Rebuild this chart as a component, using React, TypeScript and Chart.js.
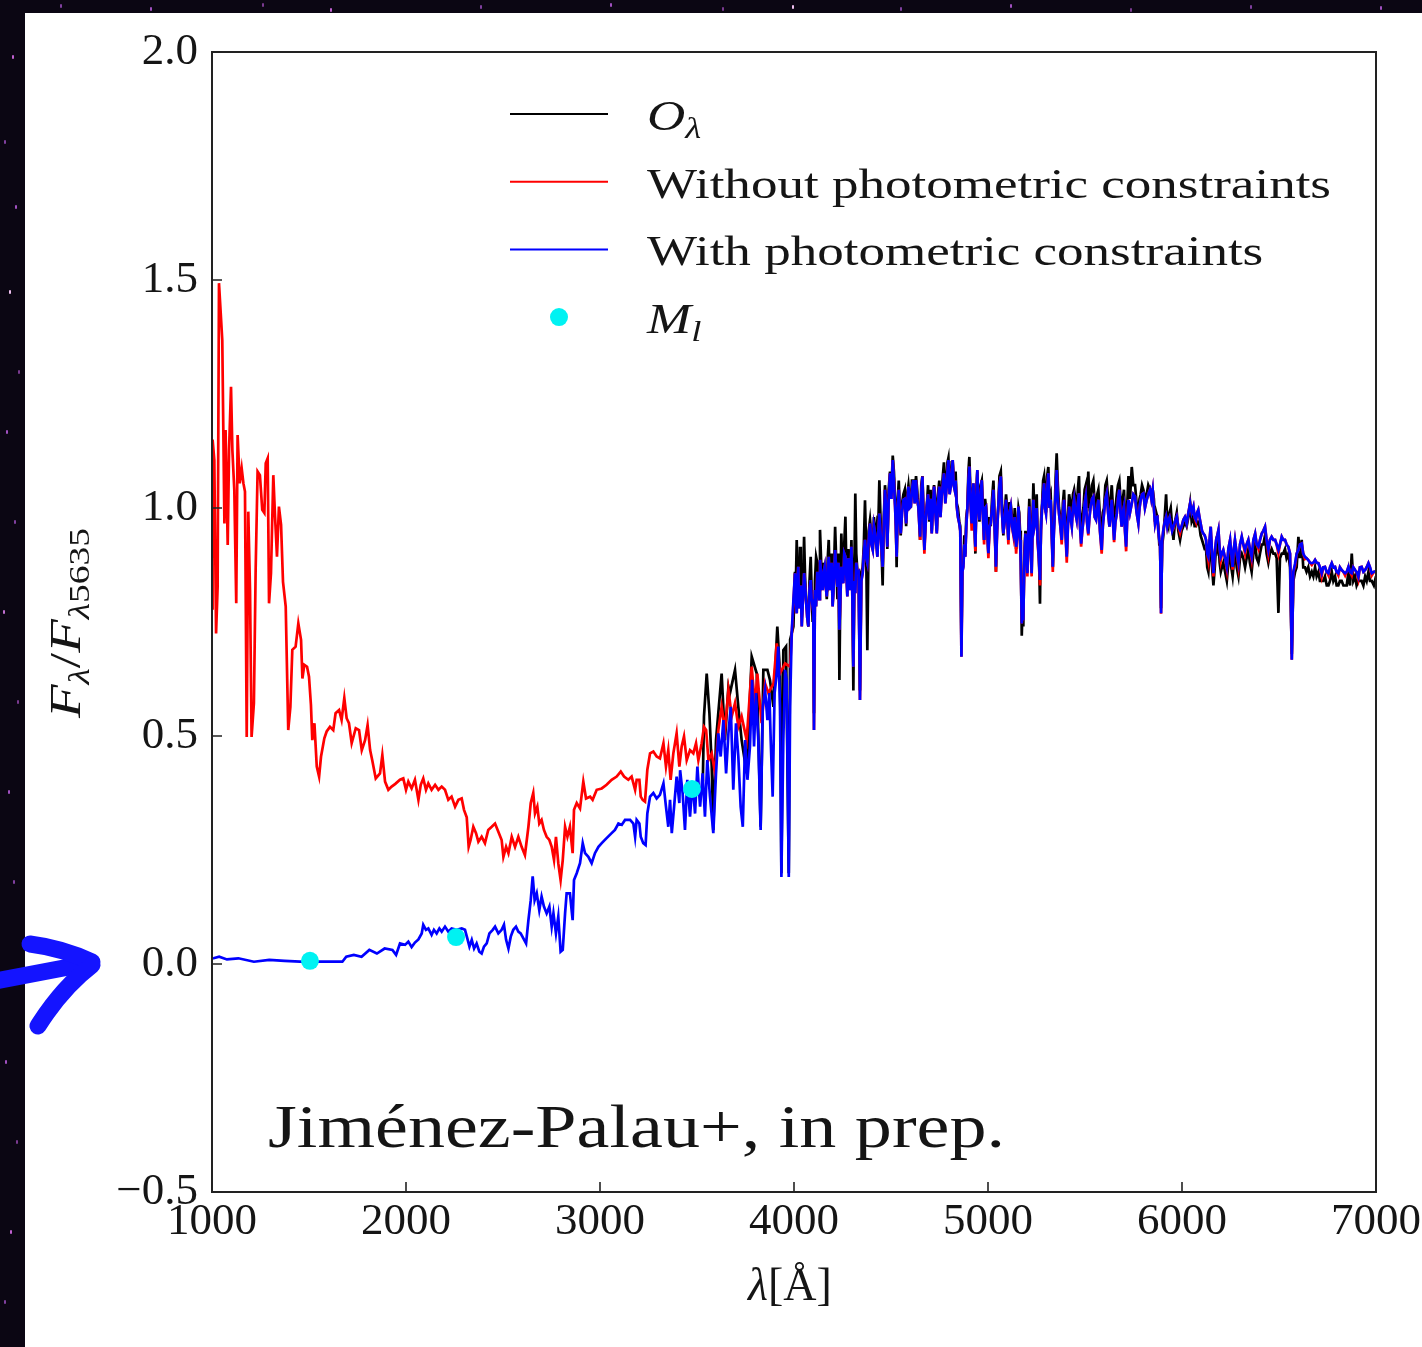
import React, { useEffect, useRef } from 'react';
import { Chart, registerables } from 'chart.js';

Chart.register(...registerables);

// ---------------- DATA ----------------
// Axis ticks
const xTickValues = [1000, 2000, 3000, 4000, 5000, 6000, 7000];
const yTickValues = [-0.5, 0, 0.5, 1.0, 1.5, 2.0];

// Legend / series labels
const labelObs = 'O_λ';
const labelWithout = 'Without photometric constraints';
const labelWith = 'With photometric constraints';
const labelPhot = 'M_l';
const noteText = 'Jiménez-Palau+, in prep.';

// "Without photometric constraints" (red), UV/blue part
const uvRedWave = [
  1001, 1003, 1012, 1021, 1029, 1036, 1053, 1064, 1070, 1081, 1088, 1098, 1105, 1115, 1125, 1132, 1143, 1153, 1162, 1170,
  1179, 1187, 1196, 1204, 1216, 1225, 1235, 1247, 1259, 1270, 1277, 1287, 1294, 1304, 1316, 1325, 1335, 1345, 1356, 1366,
  1380, 1393, 1404, 1414, 1431, 1445, 1459, 1466, 1476, 1490, 1500, 1510, 1517, 1528, 1540, 1552, 1562, 1579, 1591, 1608,
  1625, 1637, 1655, 1668, 1682, 1694, 1706, 1720, 1741, 1758, 1772, 1789, 1802, 1815, 1826, 1844, 1866, 1878, 1892, 1909,
  1926, 1945,
  1969, 1986, 2000, 2012, 2029, 2046, 2064, 2076, 2089, 2103, 2115, 2132, 2150, 2167, 2184, 2201, 2218, 2235, 2253, 2270,
  2287, 2299, 2313, 2323, 2333, 2347, 2361, 2373, 2390, 2407, 2424, 2442, 2459, 2476, 2493, 2502, 2516, 2528, 2545, 2562,
  2579, 2596, 2613, 2631, 2643, 2656, 2665, 2677, 2687, 2699, 2711, 2725, 2739, 2751, 2763, 2773, 2785, 2797, 2808, 2820,
  2832, 2845, 2859, 2866, 2880, 2897, 2914, 2928, 2949, 2962, 2983, 3009, 3034, 3060, 3086, 3107, 3124, 3146, 3163, 3181,
  3189, 3203, 3210, 3220, 3232, 3244, 3258, 3275, 3292, 3309, 3327, 3340, 3352, 3364, 3378, 3395, 3409, 3421, 3433, 3447,
  3464, 3481, 3495, 3507, 3524, 3536,
  3547, 3559, 3576, 3593, 3610, 3627, 3644, 3662, 3679, 3696, 3713, 3730, 3756, 3782, 3799, 3811, 3833, 3851, 3868, 3894,
  3911, 3928, 3954, 3980,
];
const uvRedFlux = [
  0.78, 1.15, 1.105, 0.725, 0.827, 1.493, 1.368, 0.966, 1.171, 0.919, 1.127, 1.266, 1.127, 1.039, 0.791, 1.16, 1.054, 1.087, 1.054, 1.036,
  0.498, 0.992, 0.82, 0.498, 0.572, 0.864, 1.08, 1.072, 0.996, 0.989, 1.098, 1.109, 0.791, 0.857, 1.072, 0.981, 0.893, 1.003, 0.963, 0.838,
  0.784, 0.513, 0.564, 0.689, 0.696, 0.747, 0.711, 0.626, 0.656, 0.652, 0.63, 0.568, 0.491, 0.528, 0.433, 0.411, 0.455, 0.495, 0.51, 0.52,
  0.513, 0.55, 0.557, 0.535, 0.583, 0.539, 0.528, 0.484, 0.517, 0.513, 0.469, 0.491, 0.524, 0.469, 0.447, 0.407, 0.418, 0.458, 0.4, 0.382,
  0.389, 0.395,
  0.404, 0.407, 0.382, 0.4, 0.385, 0.404, 0.36, 0.393, 0.407, 0.382, 0.396, 0.382, 0.393, 0.382, 0.389, 0.382, 0.36, 0.367, 0.345, 0.36,
  0.363, 0.338, 0.322, 0.257, 0.272, 0.301, 0.287, 0.268, 0.279, 0.265, 0.294, 0.301, 0.308, 0.29, 0.272, 0.235, 0.257, 0.243, 0.279, 0.257,
  0.279, 0.257, 0.239, 0.301, 0.353, 0.375, 0.33, 0.345, 0.308, 0.316, 0.294, 0.279, 0.272, 0.257, 0.228, 0.279, 0.221, 0.184, 0.228, 0.301,
  0.279, 0.301, 0.243, 0.338, 0.353, 0.341, 0.4, 0.363, 0.367, 0.36, 0.382, 0.385, 0.393, 0.404, 0.411, 0.422, 0.411, 0.404, 0.411, 0.382,
  0.404, 0.404, 0.367, 0.36, 0.356, 0.426, 0.462, 0.466, 0.455, 0.451, 0.484, 0.433, 0.469, 0.404, 0.462, 0.506, 0.433, 0.477, 0.499, 0.447,
  0.469, 0.462, 0.484, 0.447, 0.484, 0.52,
  0.513, 0.447, 0.462, 0.418, 0.513, 0.564, 0.513, 0.601, 0.543, 0.572, 0.52, 0.543, 0.491, 0.652, 0.564, 0.637, 0.528, 0.615, 0.594, 0.615,
  0.703, 0.637, 0.659, 0.652,
];

// "With photometric constraints" (blue), UV/blue part
const uvBlueWave = [
  1000, 1008, 1037, 1077, 1136, 1216, 1295, 1374, 1454, 1573, 1672, 1692, 1731, 1771, 1811, 1850, 1890, 1930, 1949,
  1969, 1995, 2012, 2029, 2046, 2064, 2081, 2089, 2103, 2115, 2132, 2144, 2158, 2172, 2184, 2201, 2218, 2235, 2261, 2287,
  2304, 2316, 2327, 2339, 2351, 2364, 2378, 2390, 2402, 2416, 2430, 2447, 2459, 2476, 2493, 2505, 2516, 2528, 2540, 2553,
  2567, 2579, 2591, 2605, 2619, 2631, 2643, 2653, 2663, 2674, 2687, 2699, 2711, 2725, 2739, 2751, 2760, 2773, 2785, 2797,
  2808, 2820, 2828, 2845, 2859, 2866, 2880, 2897, 2911, 2923, 2940, 2957, 2974, 2992, 3009, 3034, 3060, 3077, 3095, 3112,
  3129, 3155, 3172, 3181, 3189, 3203, 3210, 3223, 3235, 3244, 3258, 3275, 3292, 3309, 3327, 3340, 3352, 3361, 3370, 3382,
  3395, 3409,
  3413, 3426, 3438, 3450, 3464, 3477, 3490, 3502, 3516, 3529, 3541, 3553, 3567, 3584, 3598, 3610, 3622, 3636, 3650, 3662,
  3674, 3687, 3701, 3713, 3725, 3736, 3748, 3760, 3773, 3784, 3794, 3804, 3816, 3828, 3839, 3851, 3863, 3873, 3880, 3890,
  3900, 3911, 3919, 3928, 3935, 3945, 3954, 3962, 3973, 3980, 3988, 3997,
];
const uvBlueFlux = [
  0.012, 0.0125, 0.016, 0.01, 0.0125, 0.005, 0.009, 0.007, 0.005, 0.005, 0.005, 0.016, 0.02, 0.016, 0.031, 0.023, 0.034, 0.031, 0.02,
  0.045, 0.042, 0.049, 0.037, 0.047, 0.054, 0.067, 0.086, 0.075, 0.078, 0.064, 0.075, 0.067, 0.078, 0.071, 0.082, 0.071, 0.078, 0.075, 0.078,
  0.075, 0.056, 0.038, 0.053, 0.034, 0.045, 0.027, 0.023, 0.038, 0.045, 0.067, 0.075, 0.082, 0.067, 0.075, 0.086, 0.053, 0.034, 0.06, 0.075,
  0.082, 0.071, 0.067, 0.056, 0.045, 0.096, 0.14, 0.192, 0.14, 0.155, 0.118, 0.148, 0.126, 0.111, 0.126, 0.082, 0.111, 0.067, 0.104, 0.027,
  0.031, 0.111, 0.155, 0.155, 0.096, 0.184, 0.199, 0.221, 0.265, 0.243, 0.235, 0.221, 0.243, 0.257, 0.265, 0.276, 0.287, 0.294, 0.308, 0.305,
  0.316, 0.316, 0.308, 0.279, 0.316, 0.308, 0.279, 0.265, 0.261, 0.33, 0.367, 0.375, 0.363, 0.371, 0.396, 0.345, 0.301, 0.36, 0.287, 0.345,
  0.411, 0.353,
  0.425, 0.374, 0.294, 0.404, 0.323, 0.4, 0.33, 0.433, 0.345, 0.418, 0.323, 0.447, 0.367, 0.287, 0.418, 0.506, 0.455, 0.535, 0.418, 0.506,
  0.564, 0.382, 0.528, 0.455, 0.345, 0.301, 0.491, 0.404, 0.477, 0.623, 0.477, 0.594, 0.491, 0.294, 0.564, 0.601, 0.535, 0.594, 0.491, 0.367,
  0.594, 0.637, 0.696, 0.564, 0.191, 0.491, 0.645, 0.623, 0.191, 0.564, 0.725, 0.798,
];

// Observed spectrum O_lambda (black), blue part
const uvObsWave = [
  3530, 3536, 3550, 3564, 3576, 3584, 3598, 3627, 3644, 3662, 3670, 3696, 3713, 3730, 3756, 3782, 3808, 3828, 3842, 3863,
  3876, 3894, 3914, 3928, 3935, 3945, 3959, 3973, 3980, 3997,
];
const uvObsFlux = [
  0.4, 0.543, 0.637, 0.55, 0.433, 0.294, 0.491, 0.637, 0.491, 0.608, 0.594, 0.645, 0.564, 0.491, 0.418, 0.674, 0.637, 0.301, 0.645, 0.645,
  0.623, 0.564, 0.74, 0.637, 0.199, 0.688, 0.696, 0.199, 0.711, 0.74,
];

// Optical part: main wavelength grid shared by the three spectra
const optWave = [
  4005, 4014, 4022, 4031, 4040, 4052, 4062, 4074, 4086, 4096,
  4103, 4114, 4126, 4134, 4148, 4158, 4169, 4179, 4189, 4199,
  4212, 4224, 4234, 4244, 4254, 4265, 4275, 4285, 4296, 4306,
  4316, 4327, 4340, 4354, 4366, 4378, 4392, 4406, 4418, 4430,
  4440, 4457, 4469, 4481, 4495, 4509, 4521, 4529, 4540, 4550,
  4564, 4578, 4590, 4602, 4615, 4629, 4641, 4650, 4662, 4672,
  4684, 4698, 4710, 4722, 4736, 4749, 4761, 4773, 4787, 4796,
  4808, 4818, 4828, 4839, 4852, 4863, 4873, 4883, 4894, 4904,
  4916, 4925, 4935, 4945, 4956, 4968, 4980, 4990, 5002, 5014,
  5028, 5041, 5053, 5066, 5079, 5093, 5105, 5117, 5131, 5145,
  5157, 5165, 5174, 5182, 5193, 5203, 5213, 5225, 5234, 5246,
  5256, 5268, 5279, 5289, 5299, 5311, 5323, 5334, 5344, 5354,
  5366, 5380, 5392, 5406, 5418, 5432, 5444, 5457, 5469, 5480,
  5492, 5504, 5517, 5529, 5543, 5557, 5569, 5586, 5598, 5612,
  5626, 5638, 5650, 5664, 5677, 5689, 5701, 5712, 5724, 5741,
  5758, 5775, 5787, 5801, 5818, 5835, 5849, 5861, 5873, 5883,
  5892, 5904, 5918, 5930, 5942, 5956, 5973, 5990, 6007, 6024,
  6042, 6059, 6072, 6084, 6096, 6110, 6124, 6136, 6148, 6162,
  6176, 6188, 6200, 6213, 6231, 6248, 6261, 6273, 6291, 6308,
  6325, 6342, 6359, 6377, 6394, 6411, 6428, 6445, 6462, 6480,
  6497, 6514, 6531, 6548, 6566, 6583, 6600, 6617, 6634, 6651,
  6669, 6686, 6703, 6720, 6737, 6755, 6772, 6789, 6806, 6823,
  6841, 6858, 6875, 6892, 6909, 6926, 6944, 6961, 6978, 7000,
];
const optBlue = [
  0.857, 0.769, 0.871, 0.806, 0.740, 0.857, 0.798, 0.740, 0.842, 0.784,
  0.513, 0.784, 0.842, 0.886, 0.820, 0.871, 0.806, 0.893, 0.842, 0.784,
  0.908, 0.827, 0.733, 0.871, 0.835, 0.893, 0.806, 0.857, 0.915, 0.652,
  0.813, 0.857, 0.579, 0.857, 0.930, 0.879, 0.966, 0.908, 0.944, 0.893,
  0.988, 0.871, 1.040, 0.915, 1.076, 1.105, 1.003, 0.893, 1.040, 0.944,
  1.018, 0.966, 1.047, 1.003, 1.061, 1.061, 1.003, 0.937, 1.069, 0.908,
  1.003, 0.974, 0.944, 1.047, 0.944, 1.047, 1.025, 1.076, 1.047, 1.105,
  1.047, 1.105, 1.040, 1.003, 0.966, 0.674, 0.871, 0.893, 1.003, 1.091,
  0.966, 1.054, 0.915, 1.083, 0.974, 1.061, 0.930, 1.003, 0.901, 0.966,
  1.040, 0.871, 1.003, 1.069, 0.944, 1.018, 0.930, 1.003, 0.944, 0.915,
  1.003, 0.930, 0.747, 0.754, 0.944, 0.857, 1.003, 0.857, 1.018, 0.974,
  0.930, 0.842, 1.003, 1.054, 0.988, 1.076, 1.018, 0.871, 0.988, 1.083,
  0.988, 0.930, 1.018, 0.893, 1.003, 0.959, 1.018, 0.974, 1.032, 0.922,
  0.974, 1.025, 0.944, 1.003, 1.025, 0.974, 1.018, 0.908, 0.988, 1.032,
  0.959, 1.018, 0.930, 0.988, 1.040, 0.959, 1.003, 0.915, 1.018, 1.010,
  1.025, 0.966, 1.018, 1.032, 1.018, 1.040, 1.040, 0.966, 0.981, 0.930,
  0.769, 0.952, 0.981, 0.974, 0.966, 0.959, 0.981, 0.952, 0.974, 0.966,
  1.010, 1.003, 0.974, 0.996, 0.966, 0.944, 0.930, 0.893, 0.959, 0.857,
  0.930, 0.952, 0.893, 0.908, 0.871, 0.930, 0.871, 0.930, 0.879, 0.937,
  0.908, 0.930, 0.893, 0.944, 0.915, 0.944, 0.959, 0.908, 0.937, 0.930,
  0.908, 0.937, 0.930, 0.915, 0.667, 0.879, 0.908, 0.922, 0.893, 0.886,
  0.879, 0.886, 0.879, 0.857, 0.871, 0.857, 0.879, 0.871, 0.857, 0.864,
  0.857, 0.871, 0.857, 0.864, 0.849, 0.871, 0.864, 0.879, 0.857, 0.862,
];
const optRed = [
  0.857, 0.769, 0.871, 0.806, 0.740, 0.857, 0.798, 0.740, 0.842, 0.784,
  0.513, 0.784, 0.842, 0.886, 0.820, 0.871, 0.806, 0.893, 0.842, 0.784,
  0.908, 0.827, 0.733, 0.871, 0.835, 0.893, 0.806, 0.857, 0.915, 0.652,
  0.813, 0.857, 0.579, 0.857, 0.930, 0.879, 0.966, 0.908, 0.944, 0.893,
  0.988, 0.871, 1.040, 0.915, 1.076, 1.105, 1.003, 0.893, 1.040, 0.944,
  1.018, 0.966, 1.047, 1.003, 1.061, 1.061, 1.003, 0.930, 1.069, 0.900,
  1.003, 0.974, 0.944, 1.047, 0.944, 1.047, 1.025, 1.076, 1.047, 1.105,
  1.047, 1.105, 1.040, 1.003, 0.966, 0.674, 0.871, 0.893, 1.003, 1.091,
  0.950, 1.054, 0.905, 1.083, 0.974, 1.061, 0.920, 1.003, 0.890, 0.966,
  1.040, 0.860, 1.003, 1.069, 0.944, 1.018, 0.920, 1.003, 0.940, 0.900,
  1.003, 0.930, 0.747, 0.754, 0.944, 0.850, 1.003, 0.850, 1.018, 0.974,
  0.920, 0.830, 1.003, 1.054, 0.988, 1.076, 1.018, 0.860, 0.988, 1.083,
  0.988, 0.920, 1.018, 0.880, 1.003, 0.959, 1.018, 0.974, 1.032, 0.915,
  0.974, 1.025, 0.940, 1.003, 1.025, 0.974, 1.018, 0.900, 0.988, 1.032,
  0.959, 1.018, 0.925, 0.988, 1.040, 0.959, 1.003, 0.905, 1.018, 1.010,
  1.025, 0.966, 1.018, 1.032, 1.018, 1.040, 1.040, 0.966, 0.981, 0.930,
  0.768, 0.952, 0.981, 0.974, 0.966, 0.955, 0.981, 0.945, 0.974, 0.966,
  1.010, 1.003, 0.970, 0.996, 0.966, 0.944, 0.930, 0.885, 0.959, 0.850,
  0.930, 0.952, 0.885, 0.908, 0.865, 0.930, 0.865, 0.930, 0.872, 0.937,
  0.900, 0.930, 0.887, 0.944, 0.910, 0.944, 0.959, 0.900, 0.937, 0.930,
  0.900, 0.937, 0.930, 0.915, 0.667, 0.872, 0.908, 0.922, 0.888, 0.886,
  0.875, 0.886, 0.879, 0.850, 0.871, 0.852, 0.879, 0.871, 0.852, 0.864,
  0.852, 0.871, 0.852, 0.864, 0.844, 0.871, 0.864, 0.879, 0.852, 0.860,
];
const optObs = [
  0.86, 0.93, 0.88, 0.915, 0.76, 0.937, 0.80, 0.74, 0.893, 0.75,
  0.55, 0.893, 0.85, 0.952, 0.83, 0.857, 0.80, 0.93, 0.85, 0.79,
  0.959, 0.80, 0.623, 0.944, 0.84, 0.981, 0.857, 0.86, 0.93, 0.60,
  1.032, 0.86, 0.60, 0.87, 1.017, 0.688, 0.974, 0.91, 0.95, 0.974,
  1.061, 0.83, 1.05, 0.91, 1.08, 1.115, 1.02, 0.87, 1.06, 0.94,
  1.03, 0.96, 1.05, 1.00, 1.06, 1.07, 1.00, 0.93, 1.07, 0.91,
  1.00, 0.97, 0.95, 1.05, 0.95, 1.06, 1.03, 1.10, 1.06, 1.11,
  1.05, 1.10, 1.06, 1.01, 0.97, 0.70, 0.88, 0.90, 1.00, 1.112,
  0.97, 1.05, 0.90, 1.08, 0.97, 1.06, 0.93, 1.00, 0.90, 0.96,
  1.06, 0.86, 1.00, 1.08, 0.94, 1.03, 0.93, 1.01, 0.94, 0.91,
  1.00, 0.95, 0.72, 0.74, 0.95, 0.86, 1.02, 0.86, 1.054, 0.98,
  0.93, 0.79, 1.01, 1.07, 0.99, 1.09, 1.03, 0.87, 1.00, 1.12,
  1.00, 0.93, 1.04, 0.90, 1.03, 0.99, 1.04, 0.98, 1.07, 0.94,
  1.00, 1.05, 1.08, 1.02, 1.06, 0.99, 1.04, 0.93, 1.00, 1.06,
  0.98, 1.05, 0.95, 1.03, 1.06, 0.98, 1.04, 0.94, 1.07, 1.09,
  1.05, 0.98, 1.03, 1.04, 1.03, 1.04, 1.04, 0.97, 0.98, 0.92,
  0.78, 0.94, 1.03, 0.96, 1.00, 0.93, 0.99, 0.93, 0.96, 0.96,
  1.01, 0.98, 0.96, 0.97, 0.94, 0.92, 0.91, 0.86, 0.94, 0.83,
  0.92, 0.93, 0.86, 0.88, 0.84, 0.90, 0.85, 0.91, 0.85, 0.90,
  0.87, 0.91, 0.86, 0.92, 0.88, 0.92, 0.94, 0.88, 0.91, 0.90,
  0.77, 0.90, 0.91, 0.90, 0.68, 0.86, 0.937, 0.93, 0.87, 0.87,
  0.86, 0.87, 0.86, 0.84, 0.85, 0.83, 0.86, 0.85, 0.83, 0.84,
  0.83, 0.86, 0.90, 0.85, 0.84, 0.84, 0.85, 0.86, 0.84, 0.85,
];

// Optical part: in-between samples (the fine noise of the spectra)
const optMidWave = [
  4009, 4018, 4026, 4035, 4046, 4057, 4068, 4080, 4091, 4099,
  4108, 4120, 4130, 4141, 4153, 4163, 4174, 4184, 4194, 4205,
  4218, 4229, 4239, 4249, 4259, 4270, 4280, 4290, 4301, 4311,
  4321, 4333, 4347, 4360, 4372, 4385, 4399, 4412, 4424, 4435,
  4448, 4463, 4475, 4488, 4502, 4515, 4525, 4534, 4545, 4557,
  4571, 4584, 4596, 4608, 4622, 4635, 4645, 4656, 4667, 4678,
  4691, 4704, 4716, 4729, 4742, 4755, 4767, 4780, 4791, 4802,
  4813, 4823, 4833, 4845, 4857, 4868, 4878, 4888, 4899, 4910,
  4920, 4930, 4940, 4950, 4962, 4974, 4985, 4996, 5008, 5021,
  5034, 5047, 5059, 5072, 5086, 5099, 5111, 5124, 5138, 5151,
  5161, 5169, 5178, 5187, 5198, 5208, 5219, 5229, 5240, 5251,
  5262, 5273, 5284, 5294, 5305, 5317, 5328, 5339, 5349, 5360,
  5373, 5386, 5399, 5412, 5425, 5438, 5450, 5463, 5474, 5486,
  5498, 5510, 5523, 5536, 5550, 5563, 5577, 5592, 5605, 5619,
  5632, 5644, 5657, 5670, 5683, 5695, 5706, 5718, 5732, 5749,
  5766, 5781, 5794, 5809, 5826, 5842, 5855, 5867, 5878, 5887,
  5898, 5911, 5924, 5936, 5949, 5964, 5981, 5998, 6015, 6033,
  6050, 6065, 6078, 6090, 6103, 6117, 6130, 6142, 6155, 6169,
  6182, 6194, 6206, 6222, 6239, 6254, 6267, 6282, 6299, 6316,
  6333, 6350, 6368, 6385, 6402, 6419, 6436, 6453, 6471, 6488,
  6505, 6522, 6539, 6557, 6574, 6591, 6608, 6625, 6642, 6660,
  6677, 6694, 6711, 6728, 6746, 6763, 6780, 6797, 6814, 6832,
  6849, 6866, 6883, 6900, 6917, 6935, 6952, 6969, 6989,
];
const optBlueMid = [
  0.80, 0.84, 0.78, 0.83, 0.80, 0.83, 0.76, 0.82, 0.80, 0.80,
  0.82, 0.86, 0.80, 0.85, 0.86, 0.83, 0.87, 0.82, 0.88, 0.83,
  0.86, 0.88, 0.80, 0.85, 0.90, 0.85, 0.89, 0.82, 0.80, 0.84,
  0.88, 0.86, 0.84, 0.90, 0.89, 0.93, 0.92, 0.96, 0.92, 0.95,
  0.93, 0.96, 1.00, 1.02, 1.02, 1.06, 0.96, 0.99, 0.98, 0.99,
  1.02, 1.01, 1.00, 1.04, 1.01, 1.02, 0.97, 1.03, 0.98, 0.96,
  1.03, 1.02, 1.00, 0.99, 1.01, 0.98, 1.05, 1.01, 1.08, 1.03,
  1.08, 1.05, 1.06, 0.98, 0.95, 0.86, 0.92, 0.96, 1.06, 1.01,
  1.01, 0.96, 1.02, 1.00, 1.03, 0.98, 1.00, 0.95, 0.96, 1.00,
  0.96, 0.95, 1.05, 0.99, 0.97, 0.98, 0.99, 0.96, 0.98, 0.94,
  0.97, 0.88, 0.78, 0.88, 0.90, 0.94, 0.92, 0.95, 0.96, 1.00,
  0.89, 0.95, 1.03, 1.00, 1.04, 1.00, 0.95, 0.94, 1.04, 1.02,
  0.96, 0.99, 0.95, 0.96, 0.98, 1.00, 0.99, 1.01, 0.96, 0.95,
  1.01, 0.97, 0.98, 1.02, 0.98, 1.00, 0.95, 0.96, 1.02, 0.99,
  0.99, 0.97, 0.97, 1.02, 0.99, 0.99, 0.95, 0.98, 0.99, 1.03,
  0.99, 1.00, 1.03, 1.00, 1.03, 1.02, 1.00, 0.98, 0.95, 0.92,
  0.93, 0.97, 0.96, 0.98, 0.95, 0.97, 0.96, 0.96, 0.98, 0.99,
  0.99, 0.98, 0.99, 0.98, 0.95, 0.94, 0.90, 0.93, 0.90, 0.90,
  0.94, 0.91, 0.90, 0.89, 0.91, 0.90, 0.91, 0.90, 0.92, 0.92,
  0.92, 0.91, 0.93, 0.92, 0.93, 0.95, 0.93, 0.93, 0.93, 0.92,
  0.92, 0.93, 0.92, 0.90, 0.86, 0.90, 0.92, 0.90, 0.89, 0.88,
  0.88, 0.88, 0.87, 0.87, 0.86, 0.87, 0.87, 0.86, 0.87, 0.86,
  0.86, 0.86, 0.87, 0.86, 0.87, 0.86, 0.87, 0.87, 0.86,
];
const optRedMid = [
  0.80, 0.84, 0.78, 0.83, 0.80, 0.83, 0.76, 0.82, 0.80, 0.80,
  0.82, 0.86, 0.80, 0.85, 0.86, 0.83, 0.87, 0.82, 0.88, 0.83,
  0.86, 0.88, 0.80, 0.85, 0.90, 0.85, 0.89, 0.82, 0.80, 0.84,
  0.88, 0.86, 0.84, 0.90, 0.89, 0.93, 0.92, 0.96, 0.92, 0.95,
  0.93, 0.96, 1.00, 1.02, 1.02, 1.06, 0.96, 0.99, 0.98, 0.99,
  1.02, 1.01, 1.00, 1.04, 1.01, 1.02, 0.97, 1.03, 0.98, 0.96,
  1.03, 1.02, 1.00, 0.99, 1.01, 0.98, 1.05, 1.01, 1.08, 1.03,
  1.08, 1.05, 1.06, 0.98, 0.95, 0.86, 0.92, 0.96, 1.06, 1.01,
  1.01, 0.96, 1.02, 1.00, 1.03, 0.98, 1.00, 0.95, 0.96, 1.00,
  0.96, 0.95, 1.05, 0.99, 0.97, 0.98, 0.99, 0.96, 0.98, 0.94,
  0.97, 0.88, 0.78, 0.88, 0.90, 0.94, 0.92, 0.95, 0.96, 1.00,
  0.89, 0.95, 1.03, 1.00, 1.04, 1.00, 0.95, 0.94, 1.04, 1.02,
  0.96, 0.99, 0.95, 0.96, 0.98, 1.00, 0.99, 1.01, 0.96, 0.95,
  1.01, 0.97, 0.98, 1.02, 0.98, 1.00, 0.95, 0.96, 1.02, 0.99,
  0.99, 0.97, 0.97, 1.02, 0.99, 0.99, 0.95, 0.98, 0.99, 1.03,
  0.99, 1.00, 1.03, 1.00, 1.03, 1.02, 1.00, 0.98, 0.95, 0.92,
  0.93, 0.97, 0.96, 0.98, 0.95, 0.97, 0.96, 0.96, 0.98, 0.99,
  0.99, 0.98, 0.99, 0.98, 0.95, 0.94, 0.90, 0.93, 0.90, 0.90,
  0.94, 0.91, 0.90, 0.89, 0.91, 0.90, 0.91, 0.90, 0.92, 0.92,
  0.92, 0.91, 0.93, 0.92, 0.93, 0.95, 0.93, 0.93, 0.93, 0.92,
  0.92, 0.93, 0.92, 0.90, 0.86, 0.90, 0.92, 0.90, 0.89, 0.88,
  0.88, 0.88, 0.87, 0.87, 0.86, 0.87, 0.87, 0.86, 0.87, 0.86,
  0.86, 0.86, 0.87, 0.86, 0.87, 0.86, 0.87, 0.87, 0.86,
];
const optObsMid = [
  0.82, 0.86, 0.80, 0.85, 0.82, 0.85, 0.78, 0.84, 0.82, 0.80,
  0.84, 0.88, 0.82, 0.87, 0.88, 0.85, 0.89, 0.84, 0.90, 0.85,
  0.88, 0.90, 0.82, 0.87, 0.92, 0.87, 0.91, 0.84, 0.82, 0.86,
  0.90, 0.86, 0.86, 0.92, 0.91, 0.95, 0.94, 0.98, 0.94, 0.97,
  0.95, 0.98, 1.02, 1.04, 1.04, 1.08, 0.98, 1.01, 1.00, 1.01,
  1.04, 1.03, 1.02, 1.06, 1.03, 1.04, 0.99, 1.05, 1.00, 0.98,
  1.05, 1.04, 1.02, 1.01, 1.03, 1.00, 1.07, 1.03, 1.10, 1.05,
  1.10, 1.07, 1.08, 1.00, 0.96, 0.88, 0.94, 0.98, 1.08, 1.03,
  1.03, 0.98, 1.04, 1.02, 1.05, 1.00, 1.02, 0.97, 0.98, 1.02,
  0.98, 0.97, 1.07, 1.01, 0.99, 1.00, 1.01, 0.98, 1.00, 0.96,
  0.99, 0.90, 0.78, 0.90, 0.92, 0.96, 0.94, 0.97, 0.98, 1.03,
  0.91, 0.97, 1.06, 1.02, 1.07, 1.02, 0.97, 0.96, 1.07, 1.05,
  0.98, 1.01, 0.97, 0.98, 1.01, 1.03, 1.02, 1.04, 0.99, 0.98,
  1.04, 1.00, 1.01, 1.05, 1.01, 1.03, 0.98, 0.99, 1.05, 1.02,
  1.02, 1.00, 1.00, 1.05, 1.02, 1.02, 0.98, 1.01, 1.02, 1.05,
  1.01, 1.02, 1.05, 1.02, 1.05, 1.04, 1.02, 0.99, 0.96, 0.92,
  0.92, 0.98, 0.97, 0.99, 0.96, 0.97, 0.95, 0.95, 0.97, 0.98,
  0.97, 0.96, 0.97, 0.96, 0.93, 0.91, 0.87, 0.90, 0.87, 0.87,
  0.91, 0.88, 0.87, 0.86, 0.88, 0.87, 0.88, 0.87, 0.89, 0.89,
  0.89, 0.88, 0.90, 0.89, 0.90, 0.92, 0.90, 0.90, 0.90, 0.89,
  0.89, 0.90, 0.89, 0.87, 0.84, 0.87, 0.89, 0.87, 0.86, 0.85,
  0.85, 0.85, 0.84, 0.84, 0.83, 0.84, 0.84, 0.83, 0.84, 0.83,
  0.83, 0.83, 0.84, 0.83, 0.84, 0.83, 0.84, 0.84, 0.83,
];

// Photometric points M_l (cyan)
const photWave = [1505, 2258, 3474];
const photFlux = [0.007, 0.059, 0.384];

// ---------------- RENDERING ----------------
const FAMILY = '"Liberation Serif", "Times New Roman", Times, serif';
const TEXT = '#151515';

type Seg = { t: string; it?: boolean; sub?: boolean };

function segFont(s: Seg, size: number, subSize: number) {
  return `${s.it ? 'italic ' : ''}${s.sub ? subSize : size}px ${FAMILY}`;
}
function richWidth(ctx: CanvasRenderingContext2D, segs: Seg[], size: number, subSize: number) {
  let w = 0;
  for (const s of segs) {
    ctx.font = segFont(s, size, subSize);
    w += ctx.measureText(s.t).width;
  }
  return w;
}
function drawRich(
  ctx: CanvasRenderingContext2D, segs: Seg[], x: number, y: number,
  size: number, subSize: number, sx: number, subDrop: number,
) {
  ctx.save();
  ctx.translate(x, y);
  ctx.scale(sx, 1);
  ctx.textAlign = 'left';
  ctx.textBaseline = 'alphabetic';
  ctx.fillStyle = TEXT;
  let cx = 0;
  for (const s of segs) {
    ctx.font = segFont(s, size, subSize);
    ctx.fillText(s.t, cx, s.sub ? subDrop : 0);
    cx += ctx.measureText(s.t).width;
  }
  ctx.restore();
}
function toSegs(label: string): Seg[] {
  const i = label.indexOf('_');
  if (i < 0) return [{ t: label }];
  return [{ t: label.slice(0, i), it: true }, { t: label.slice(i + 1), it: true, sub: true }];
}

const pts = (xs: number[], ys: number[]) => xs.map((x, i) => ({ x, y: ys[i] }));
const merged = (w1: number[], v1: number[], w2: number[], v2: number[]) =>
  [...pts(w1, v1), ...pts(w2, v2)].sort((a, b) => a.x - b.x);

const decorPlugin = {
  id: 'decor',
  afterDraw(chart: any) {
    const { ctx, chartArea: a, scales } = chart;
    const xs = scales.x;
    const ys = scales.y;
    ctx.save();

    // frame
    ctx.strokeStyle = '#222';
    ctx.lineWidth = 2;
    ctx.strokeRect(a.left, a.top, a.right - a.left, a.bottom - a.top);

    // inward ticks (left + bottom)
    ctx.lineWidth = 1.6;
    ctx.beginPath();
    for (const v of yTickValues) {
      const p = ys.getPixelForValue(v);
      ctx.moveTo(a.left, p);
      ctx.lineTo(a.left + 10, p);
    }
    for (const v of xTickValues) {
      const p = xs.getPixelForValue(v);
      ctx.moveTo(p, a.bottom);
      ctx.lineTo(p, a.bottom - 10);
    }
    ctx.stroke();

    // legend
    const legendItems = [
      { segs: toSegs(labelObs), kind: 'line', color: '#000000' },
      { segs: toSegs(labelWithout), kind: 'line', color: '#ff0000' },
      { segs: toSegs(labelWith), kind: 'line', color: '#0000ff' },
      { segs: toSegs(labelPhot), kind: 'dot', color: '#00f2f2' },
    ];
    const lSize = 42;
    const lSub = 29;
    const lsx = 684 / richWidth(ctx, toSegs(labelWithout), lSize, lSub);
    legendItems.forEach((it, i) => {
      const cy = 114 + i * 67.7;
      if (it.kind === 'line') {
        ctx.strokeStyle = it.color;
        ctx.lineWidth = 2;
        ctx.beginPath();
        ctx.moveTo(510, cy);
        ctx.lineTo(608, cy);
        ctx.stroke();
      } else {
        ctx.fillStyle = it.color;
        ctx.beginPath();
        ctx.arc(559, cy, 9, 0, Math.PI * 2);
        ctx.fill();
      }
      drawRich(ctx, it.segs, 647, cy + 16, lSize, lSub, lsx, 8);
    });

    // annotation
    const noteSegs: Seg[] = [{ t: noteText }];
    const nsx = 737 / richWidth(ctx, noteSegs, 61, 40);
    drawRich(ctx, noteSegs, 268, 1147, 61, 40, nsx, 0);

    // x title
    const xt: Seg[] = [{ t: 'λ', it: true }, { t: '[Å]' }];
    const xw = richWidth(ctx, xt, 46, 30);
    drawRich(ctx, xt, 790 - xw / 2, 1300, 46, 30, 1, 0);

    // y title (rotated)
    const yt: Seg[] = [
      { t: 'F', it: true }, { t: 'λ', it: true, sub: true }, { t: '/' },
      { t: 'F', it: true }, { t: 'λ', it: true, sub: true }, { t: '5635', sub: true },
    ];
    const ysx = 190 / richWidth(ctx, yt, 44, 30);
    ctx.save();
    ctx.translate(80, 718);
    ctx.rotate(-Math.PI / 2);
    drawRich(ctx, yt, 0, 0, 44, 30, ysx, 9);
    ctx.restore();

    ctx.restore();
  },
};

const stars: [number, number, string][] = [
  [12, 55, '#c060d0'], [4, 140, '#8040a0'], [15, 205, '#a050c0'], [9, 290, '#f0c0f0'], [18, 370, '#7a3a90'],
  [6, 430, '#a050c0'], [14, 520, '#8040a0'], [3, 610, '#c070d0'], [17, 700, '#7a3a90'], [8, 790, '#a050c0'],
  [13, 880, '#8040a0'], [5, 1060, '#a050c0'], [16, 1140, '#7a3a90'], [10, 1230, '#c060d0'], [4, 1300, '#8040a0'],
  [60, 4, '#8040a0'], [150, 7, '#a050c0'], [262, 3, '#7a3a90'], [330, 8, '#c060d0'], [480, 5, '#8040a0'],
  [610, 3, '#a050c0'], [722, 7, '#7a3a90'], [792, 5, '#f0c0f0'], [900, 7, '#8040a0'], [1010, 4, '#a050c0'],
  [1130, 8, '#7a3a90'], [1250, 5, '#8040a0'], [1380, 6, '#a050c0'],
];

export default function App() {
  const ref = useRef<HTMLCanvasElement>(null);

  useEffect(() => {
    const canvas = ref.current;
    if (!canvas) return;
    const lineCommon = { pointRadius: 0, borderWidth: 2.7, tension: 0, fill: false };
    const chart = new Chart(canvas, {
      type: 'line',
      data: {
        datasets: [
          {
            label: labelPhot,
            data: pts(photWave, photFlux),
            showLine: false,
            pointRadius: 9,
            pointBorderWidth: 0,
            pointBackgroundColor: '#00f2f2',
            borderColor: '#00f2f2',
            order: 0,
          },
          {
            label: labelWith,
            data: [...pts(uvBlueWave, uvBlueFlux), ...merged(optWave, optBlue, optMidWave, optBlueMid)],
            borderColor: '#0000ff',
            ...lineCommon,
            order: 1,
          },
          {
            label: labelWithout,
            data: [...pts(uvRedWave, uvRedFlux), ...merged(optWave, optRed, optMidWave, optRedMid)],
            borderColor: '#ff0000',
            ...lineCommon,
            order: 2,
          },
          {
            label: labelObs,
            data: [...pts(uvObsWave, uvObsFlux), ...merged(optWave, optObs, optMidWave, optObsMid)],
            borderColor: '#000000',
            ...lineCommon,
            order: 3,
          },
        ] as any,
      },
      options: {
        responsive: false,
        animation: false,
        devicePixelRatio: 1,
        events: [],
        layout: { padding: { left: 0, top: 52, right: 46, bottom: 0 } },
        plugins: {
          legend: { display: false },
          tooltip: { enabled: false },
          title: { display: false },
        },
        scales: {
          x: {
            type: 'linear',
            min: 1000,
            max: 7000,
            grid: { display: false, drawTicks: false },
            border: { display: false },
            afterBuildTicks: (s: any) => { s.ticks = xTickValues.map((v) => ({ value: v })); },
            ticks: {
              autoSkip: false,
              maxRotation: 0,
              padding: 3,
              color: TEXT,
              font: { family: FAMILY, size: 45 },
              callback: (v: any) => String(v),
            },
            afterFit: (s: any) => { s.height = 155; s.paddingLeft = 0; s.paddingRight = 0; },
          },
          y: {
            type: 'linear',
            min: -0.5,
            max: 2.0,
            grid: { display: false, drawTicks: false },
            border: { display: false },
            afterBuildTicks: (s: any) => { s.ticks = yTickValues.map((v) => ({ value: v })); },
            ticks: {
              autoSkip: false,
              padding: 14,
              color: TEXT,
              font: { family: FAMILY, size: 45 },
              callback: (v: any) => Number(v).toFixed(1).replace('-', '\u2212'),
            },
            afterFit: (s: any) => { s.width = 212; s.paddingTop = 0; s.paddingBottom = 0; },
          },
        },
      } as any,
      plugins: [decorPlugin],
    });
    return () => chart.destroy();
  }, []);

  return (
    <div style={{ position: 'absolute', left: 0, top: 0, width: 1422, height: 1347, background: '#0b0613', overflow: 'hidden' }}>
      {stars.map(([x, y, c], i) => (
        <div key={i} style={{ position: 'absolute', left: x, top: y, width: 2, height: 4, background: c, borderRadius: 1 }} />
      ))}
      <div style={{ position: 'absolute', left: 25, top: 13, width: 1397, height: 1334, background: '#ffffff' }} />
      <canvas
        ref={ref}
        width={1422}
        height={1347}
        style={{ position: 'absolute', left: 0, top: 0, width: 1422, height: 1347 }}
      />
      <svg width={1422} height={1347} style={{ position: 'absolute', left: 0, top: 0, pointerEvents: 'none' }}>
        <g stroke="#1414ff" strokeWidth={17} strokeLinecap="round" strokeLinejoin="round" fill="none">
          <path d="M -10 982 L 90 963" />
          <path d="M 30 944 Q 62 948 92 962" />
          <path d="M 38 1026 Q 62 988 92 965" />
        </g>
      </svg>
    </div>
  );
}
